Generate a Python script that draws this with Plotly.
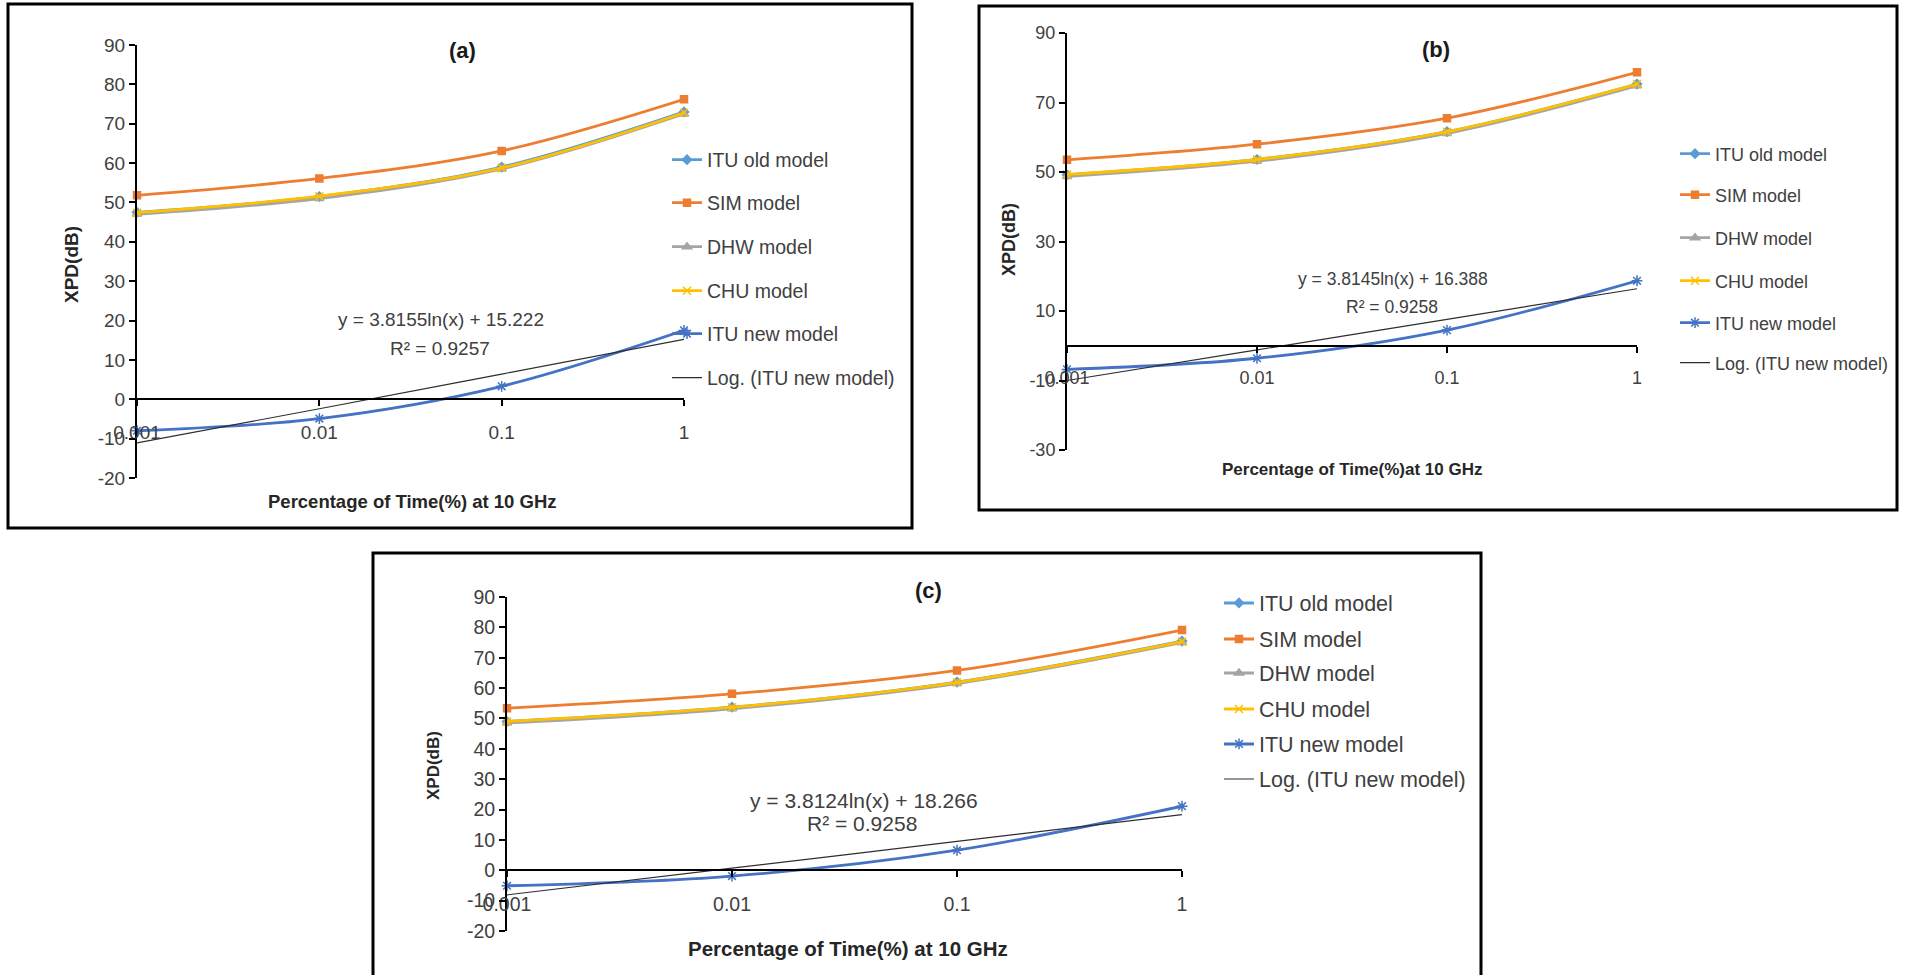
import plotly.graph_objects as go

W, H = 1908, 975

# ---------------- data ----------------
x_vals = [0.001, 0.01, 0.1, 1]
x_labels = ["0.001", "0.01", "0.1", "1"]

series_names = ["ITU old model", "SIM model", "DHW model", "CHU model", "ITU new model"]
trend_name = "Log. (ITU new model)"

# panel (a)
a_itu_old = [47.5, 51.5, 59.0, 73.0]
a_sim = [51.8, 56.1, 63.1, 76.2]
a_dhw = [47.0, 51.0, 58.5, 72.5]
a_chu = [47.4, 51.6, 58.8, 72.8]
a_itu_new = [-8.0, -4.9, 3.3, 17.5]
a_trend = [-11.1, -2.4, 6.4, 15.2]
a_eq = "y = 3.8155ln(x) + 15.222"
a_r2 = "R² = 0.9257"

# panel (b)
b_itu_old = [49.2, 53.6, 61.6, 75.3]
b_sim = [53.5, 58.0, 65.5, 78.7]
b_dhw = [48.7, 53.1, 61.1, 74.8]
b_chu = [49.3, 53.6, 61.6, 75.3]
b_itu_new = [-6.8, -3.6, 4.5, 18.7]
b_trend = [-10.0, -1.2, 7.6, 16.4]
b_eq = "y = 3.8145ln(x) + 16.388"
b_r2 = "R² = 0.9258"

# panel (c)
c_itu_old = [49.0, 53.7, 62.0, 75.5]
c_sim = [53.4, 58.1, 65.8, 79.1]
c_dhw = [48.5, 53.2, 61.5, 75.0]
c_chu = [49.0, 53.7, 61.9, 75.3]
c_itu_new = [-5.1, -1.9, 6.6, 21.1]
c_trend = [-8.1, 0.7, 9.5, 18.3]
c_eq = "y = 3.8124ln(x) + 18.266"
c_r2 = "R² = 0.9258"

a_yticks = [-20, -10, 0, 10, 20, 30, 40, 50, 60, 70, 80, 90]
b_yticks = [-30, -10, 10, 30, 50, 70, 90]
c_yticks = [-20, -10, 0, 10, 20, 30, 40, 50, 60, 70, 80, 90]

# ---------------- styles ----------------
FONT = "Liberation Sans, Arial, sans-serif"
TXT = "#404040"
colors = ["#5B9BD5", "#ED7D31", "#A5A5A5", "#FFC000", "#4472C4"]
symbols = ["diamond", "square", "triangle-up", "x-thin-open", "asterisk-open"]
msizes = [7, 7, 8, 8, 9]
trend_color = "#2e2e2e"


def px(x):
    return x / W


def py(y):
    return 1 - y / H


panels = [
    dict(label="(a)", series=[a_itu_old, a_sim, a_dhw, a_chu, a_itu_new], trend=a_trend,
         eq=a_eq, r2=a_r2, yticks=a_yticks, yr=[-20, 90],
         xdom=(137, 684), ydom=(45, 478), box=(8, 4, 912, 528),
         title_xy=(462, 50), xt_xy=(412, 501), xt="Percentage of Time(%) at 10 GHz",
         yt_xy=(72, 265), eq_xy=(441, 320), r2_xy=(440, 348),
         leg_text_x=707, leg_ys=[160, 203, 247, 291, 334, 378],
         fs_tick=19, fs_leg=19.5, fs_eq=19, fs_xt=18.5, fs_yt=19, fs_title=22),
    dict(label="(b)", series=[b_itu_old, b_sim, b_dhw, b_chu, b_itu_new], trend=b_trend,
         eq=b_eq, r2=b_r2, yticks=b_yticks, yr=[-30, 90],
         xdom=(1067, 1637), ydom=(33, 450), box=(979, 6, 1897, 510),
         title_xy=(1436, 49), xt_xy=(1352, 469), xt="Percentage of Time(%)at 10 GHz",
         yt_xy=(1009, 240), eq_xy=(1393, 279), r2_xy=(1392, 307),
         leg_text_x=1715, leg_ys=[154, 195, 238, 281, 323, 363],
         fs_tick=18, fs_leg=18, fs_eq=17.5, fs_xt=17, fs_yt=18, fs_title=22),
    dict(label="(c)", series=[c_itu_old, c_sim, c_dhw, c_chu, c_itu_new], trend=c_trend,
         eq=c_eq, r2=c_r2, yticks=c_yticks, yr=[-20, 90],
         xdom=(507, 1182), ydom=(597, 931), box=(373, 553, 1481, 977),
         title_xy=(928, 590), xt_xy=(848, 948), xt="Percentage of Time(%) at 10 GHz",
         yt_xy=(433, 766), eq_xy=(864, 800), r2_xy=(862, 823),
         leg_text_x=1259, leg_ys=[603, 639, 673, 709, 744, 779],
         fs_tick=19.5, fs_leg=21.5, fs_eq=21, fs_xt=20.5, fs_yt=17, fs_title=22),
]

fig = go.Figure()
layout = dict(
    template="none",
    width=W, height=H, margin=dict(l=0, r=0, t=0, b=0, pad=0, autoexpand=False),
    paper_bgcolor="white", plot_bgcolor="white", showlegend=True,
    font=dict(family=FONT, color=TXT),
)
annotations = []
shapes = []
leg_n = 0

for pi, p in enumerate(panels):
    xa = "x" if pi == 0 else f"x{pi + 1}"
    ya = "y" if pi == 0 else f"y{pi + 1}"
    xkey = "xaxis" if pi == 0 else f"xaxis{pi + 1}"
    ykey = "yaxis" if pi == 0 else f"yaxis{pi + 1}"

    y0d, y1d = py(p["ydom"][1]), py(p["ydom"][0])
    ymin, ymax = p["yr"]
    zero_pos = y0d + (0 - ymin) / (ymax - ymin) * (y1d - y0d)

    layout[xkey] = dict(
        type="log", range=[-3, 0], domain=[px(p["xdom"][0]), px(p["xdom"][1])],
        anchor="free", position=zero_pos, automargin=False,
        tickvals=x_vals, ticktext=x_labels, ticks="outside", ticklen=6, tickwidth=1.5,
        tickcolor="black", showline=True, linecolor="black", linewidth=2,
        showgrid=False, zeroline=False, ticklabelstandoff=10,
        tickfont=dict(size=p["fs_tick"], color=TXT, family=FONT),
    )
    layout[ykey] = dict(
        range=p["yr"], domain=[y0d, y1d], anchor=xa, automargin=False,
        tickvals=p["yticks"], ticktext=[str(v) for v in p["yticks"]],
        ticks="outside", ticklen=6, tickwidth=1.5, tickcolor="black",
        showline=True, linecolor="black", linewidth=2, showgrid=False, zeroline=False,
        tickfont=dict(size=p["fs_tick"], color=TXT, family=FONT),
    )

    traces = []
    for si, vals in enumerate(p["series"]):
        traces.append(dict(name=series_names[si], y=vals, color=colors[si],
                           symbol=symbols[si], msize=msizes[si], mode="lines+markers", width=2.8))
    traces.append(dict(name=trend_name, y=p["trend"], color=trend_color, symbol=None,
                       msize=0, mode="lines", width=1.2))

    for ti, t in enumerate(traces):
        leg_n += 1
        lkey = "legend" if leg_n == 1 else f"legend{leg_n}"
        marker = None
        if t["symbol"] is not None:
            marker = dict(symbol=t["symbol"], size=t["msize"], color=t["color"],
                          line=dict(width=1.5, color=t["color"]))
        fig.add_trace(go.Scatter(
            x=x_vals, y=t["y"], name=t["name"], mode=t["mode"],
            line=dict(color=t["color"], width=t["width"], shape="spline", smoothing=1.0),
            marker=marker, xaxis=xa, yaxis=ya, cliponaxis=False, legend=lkey,
            hoverinfo="skip",
        ))
        layout[lkey] = dict(
            x=px(p["leg_text_x"] - 40), y=py(p["leg_ys"][ti]), xanchor="left", yanchor="middle",
            bgcolor="rgba(0,0,0,0)", borderwidth=0,
            font=dict(size=p["fs_leg"], color=TXT, family=FONT),
        )

    def ann(xy, text, size, bold=False, angle=0, color=TXT):
        annotations.append(dict(
            x=px(xy[0]), y=py(xy[1]), xref="paper", yref="paper", text=text,
            showarrow=False, xanchor="center", yanchor="middle", textangle=angle,
            font=dict(size=size, color=color, family=FONT, weight="bold" if bold else "normal"),
        ))

    ann(p["title_xy"], p["label"], p["fs_title"], bold=True, color="#1a1a1a")
    ann(p["xt_xy"], p["xt"], p["fs_xt"], bold=True, color="#262626")
    ann(p["yt_xy"], "XPD(dB)", p["fs_yt"], bold=True, angle=-90, color="#262626")
    ann(p["eq_xy"], p["eq"], p["fs_eq"])
    ann(p["r2_xy"], p["r2"], p["fs_eq"])

    bx0, by0, bx1, by1 = p["box"]
    shapes.append(dict(type="rect", xref="paper", yref="paper",
                       x0=px(bx0), x1=px(bx1), y0=py(by1), y1=py(by0),
                       line=dict(color="black", width=3), fillcolor="rgba(0,0,0,0)"))

layout["annotations"] = annotations
layout["shapes"] = shapes
fig.update_layout(**layout)
fig.write_html("out.html", config={"displayModeBar": False},
               post_script="document.body.style.margin='0';")
